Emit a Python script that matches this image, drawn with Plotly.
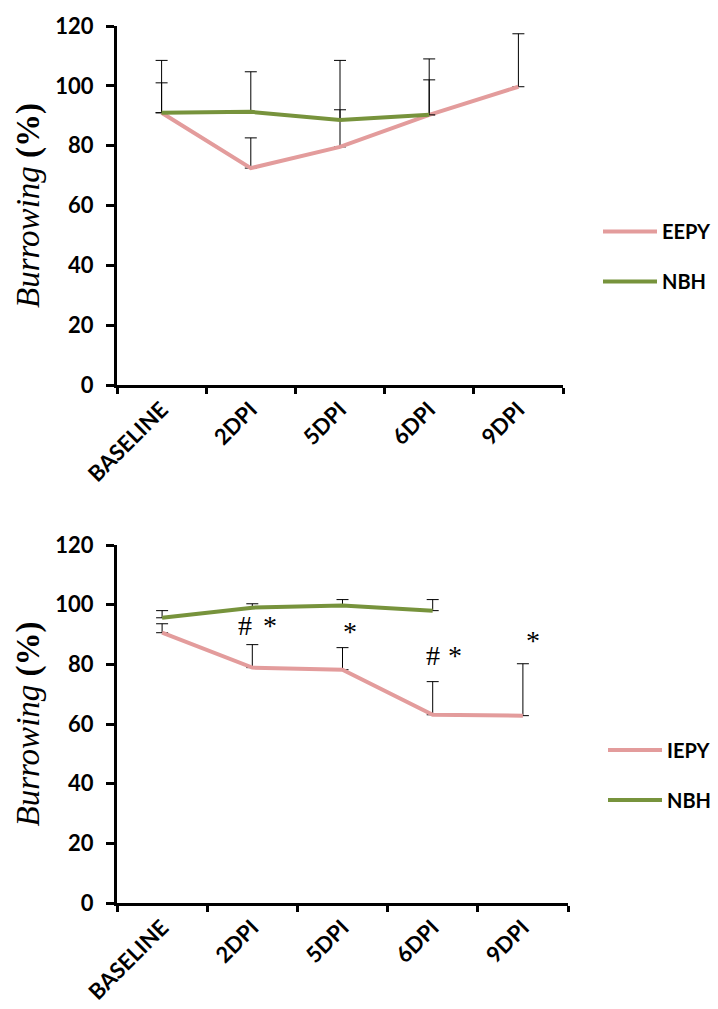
import plotly.graph_objects as go

categories = ["BASELINE", "2DPI", "5DPI", "6DPI", "9DPI"]

# Top panel
top_eepy = [91, 72.5, 79.6, 90.3, 99.7]
top_eepy_err = [10, 10.1, 12.4, 11.7, 17.7]
top_nbh = [91, 91.3, 88.6, 90.3, None]
top_nbh_err = [17.5, 13.4, 19.9, 18.7, 0]

# Bottom panel
bot_iepy = [90.6, 78.9, 78.2, 63.1, 62.8]
bot_iepy_err = [3.0, 7.7, 7.4, 11.1, 17.4]
bot_nbh = [95.6, 99.0, 99.7, 98.0, None]
bot_nbh_err = [2.4, 1.3, 2.0, 3.7, 0]

# Significance marks (bottom panel)
sig_cats = ["2DPI", "2DPI", "5DPI", "6DPI", "6DPI", "9DPI"]
sig_text = ["#", "*", "*", "#", "*", "*"]
sig_y = [93.0, 93.0, 91.0, 83.0, 83.0, 88.0]
sig_shift = [-7, 18, 7, 0, 22, 10]

PINK = "#E39C9C"
GREEN = "#77933C"
TICKFONT = dict(family="Lato", size=22, color="black", weight="bold")

fig = go.Figure()

def err(arr):
    return dict(type="data", array=arr, arrayminus=[0] * len(arr), symmetric=False,
                color="black", thickness=1, width=6)

fig.add_trace(go.Scatter(x=categories, y=top_eepy, mode="lines", name="EEPY",
                         line=dict(color=PINK, width=4), error_y=err(top_eepy_err),
                         xaxis="x", yaxis="y", legend="legend", legendgroup="a"))
fig.add_trace(go.Scatter(x=categories, y=top_nbh, mode="lines", name="NBH",
                         line=dict(color=GREEN, width=4), error_y=err(top_nbh_err),
                         xaxis="x", yaxis="y", legend="legend", legendgroup="b"))
fig.add_trace(go.Scatter(x=categories, y=bot_iepy, mode="lines", name="IEPY",
                         line=dict(color=PINK, width=4), error_y=err(bot_iepy_err),
                         xaxis="x2", yaxis="y2", legend="legend2", legendgroup="c"))
fig.add_trace(go.Scatter(x=categories, y=bot_nbh, mode="lines", name="NBH",
                         line=dict(color=GREEN, width=4), error_y=err(bot_nbh_err),
                         xaxis="x2", yaxis="y2", legend="legend2", legendgroup="d"))

xcommon = dict(type="category", categoryorder="array", categoryarray=categories,
               range=[-0.5, 4.5], showline=True, linecolor="black", linewidth=3,
               ticks="outside", tickson="boundaries", ticklen=6, tickwidth=3,
               tickcolor="black", tickangle=-45,
               tickfont=dict(family="Lato", size=22, color="black", weight="bold"),
               showgrid=False, zeroline=False, fixedrange=True, automargin=False)
ycommon = dict(range=[0, 120], dtick=20, showline=True, linecolor="black", linewidth=3,
               ticks="outside", ticklen=8, tickwidth=3, tickcolor="black",
               tickfont=TICKFONT, ticklabelstandoff=8, showgrid=False, zeroline=False,
               automargin=False,
               title=dict(text="<i>Burrowing</i> <b>(%)</b>",
                          font=dict(family="Liberation Serif", size=33, color="black"),
                          standoff=6))

H = 1009.0
W = 718.0
fig.update_layout(
    width=718, height=1009,
    margin=dict(l=0, r=0, t=0, b=0),
    paper_bgcolor="white", plot_bgcolor="white",
    xaxis=dict(xcommon, domain=[117 / W, 563 / W], anchor="y"),
    yaxis=dict(ycommon, domain=[1 - 385 / H, 1 - 26 / H], anchor="x"),
    xaxis2=dict(xcommon, domain=[117 / W, 568 / W], anchor="y2"),
    yaxis2=dict(ycommon, domain=[1 - 903 / H, 1 - 545 / H], anchor="x2"),
    legend=dict(x=598 / W, xanchor="left", y=1 - 256.5 / H, yanchor="middle",
                font=dict(family="Lato", size=20, color="black", weight="bold"),
                tracegroupgap=21, itemwidth=54, bgcolor="rgba(0,0,0,0)"),
    legend2=dict(x=603 / W, xanchor="left", y=1 - 775 / H, yanchor="middle",
                 font=dict(family="Lato", size=20, color="black", weight="bold"),
                 tracegroupgap=21, itemwidth=54, bgcolor="rgba(0,0,0,0)"),
    showlegend=True,
)

for c, t, yv, sh in zip(sig_cats, sig_text, sig_y, sig_shift):
    fig.add_annotation(x=c, y=yv, xref="x2", yref="y2", text=t, showarrow=False,
                       xshift=sh, font=dict(family="Liberation Serif", size=28, color="black"))

fig.write_html("out.html", config={"displayModeBar": False},
               post_script="document.body.style.margin='0';")
